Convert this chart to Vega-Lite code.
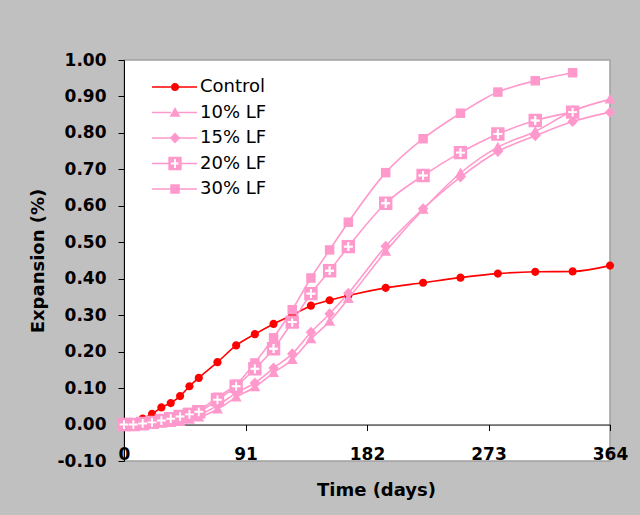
{
  "$schema": "https://vega.github.io/schema/vega-lite/v6.json",
  "width": 486,
  "height": 401,
  "autosize": {"type": "none"},
  "padding": {"left": 124, "top": 60, "right": 30, "bottom": 54},
  "background": "#C0C0C0",
  "config": {
    "font": "DejaVu Sans",
    "view": {"fill": "white", "stroke": "#A0A0A0", "strokeWidth": 1.5},
    "axis": {
      "grid": false,
      "labelFont": "DejaVu Sans",
      "labelFontWeight": "bold",
      "labelFontSize": 17,
      "labelColor": "black",
      "titleFont": "DejaVu Sans",
      "titleFontWeight": "bold",
      "titleFontSize": 18,
      "titleColor": "black",
      "domainColor": "black",
      "domainWidth": 1,
      "tickColor": "black",
      "tickWidth": 1,
      "tickSize": 6,
      "labelFlush": false,
      "labelOverlap": false
    }
  },
  "data": {
    "values": [
      {"series": "Control", "day": 0, "value": 0},
      {"series": "Control", "day": 7, "value": 0.006},
      {"series": "Control", "day": 14, "value": 0.016},
      {"series": "Control", "day": 21, "value": 0.029},
      {"series": "Control", "day": 28, "value": 0.047},
      {"series": "Control", "day": 35, "value": 0.059},
      {"series": "Control", "day": 42, "value": 0.078},
      {"series": "Control", "day": 49, "value": 0.105},
      {"series": "Control", "day": 56, "value": 0.128},
      {"series": "Control", "day": 70, "value": 0.171},
      {"series": "Control", "day": 84, "value": 0.217},
      {"series": "Control", "day": 98, "value": 0.248},
      {"series": "Control", "day": 112, "value": 0.276},
      {"series": "Control", "day": 126, "value": 0.3},
      {"series": "Control", "day": 140, "value": 0.326},
      {"series": "Control", "day": 154, "value": 0.341},
      {"series": "Control", "day": 168, "value": 0.354},
      {"series": "Control", "day": 196, "value": 0.375},
      {"series": "Control", "day": 224, "value": 0.389},
      {"series": "Control", "day": 252, "value": 0.403},
      {"series": "Control", "day": 280, "value": 0.414},
      {"series": "Control", "day": 308, "value": 0.419},
      {"series": "Control", "day": 336, "value": 0.42},
      {"series": "Control", "day": 364, "value": 0.436},

      {"series": "10% LF", "day": 0, "value": 0},
      {"series": "10% LF", "day": 7, "value": -0.006},
      {"series": "10% LF", "day": 14, "value": -0.004},
      {"series": "10% LF", "day": 21, "value": 0.0},
      {"series": "10% LF", "day": 28, "value": 0.003},
      {"series": "10% LF", "day": 35, "value": 0.005},
      {"series": "10% LF", "day": 42, "value": 0.008},
      {"series": "10% LF", "day": 49, "value": 0.014},
      {"series": "10% LF", "day": 56, "value": 0.02},
      {"series": "10% LF", "day": 70, "value": 0.042},
      {"series": "10% LF", "day": 84, "value": 0.075},
      {"series": "10% LF", "day": 98, "value": 0.103},
      {"series": "10% LF", "day": 112, "value": 0.142},
      {"series": "10% LF", "day": 126, "value": 0.178},
      {"series": "10% LF", "day": 140, "value": 0.235},
      {"series": "10% LF", "day": 154, "value": 0.283},
      {"series": "10% LF", "day": 168, "value": 0.345},
      {"series": "10% LF", "day": 196, "value": 0.475},
      {"series": "10% LF", "day": 224, "value": 0.59},
      {"series": "10% LF", "day": 252, "value": 0.69},
      {"series": "10% LF", "day": 280, "value": 0.761},
      {"series": "10% LF", "day": 308, "value": 0.804},
      {"series": "10% LF", "day": 336, "value": 0.86},
      {"series": "10% LF", "day": 364, "value": 0.892},

      {"series": "15% LF", "day": 0, "value": 0},
      {"series": "15% LF", "day": 7, "value": -0.003},
      {"series": "15% LF", "day": 14, "value": 0.0},
      {"series": "15% LF", "day": 21, "value": 0.003},
      {"series": "15% LF", "day": 28, "value": 0.006},
      {"series": "15% LF", "day": 35, "value": 0.01},
      {"series": "15% LF", "day": 42, "value": 0.014},
      {"series": "15% LF", "day": 49, "value": 0.02},
      {"series": "15% LF", "day": 56, "value": 0.027},
      {"series": "15% LF", "day": 70, "value": 0.052},
      {"series": "15% LF", "day": 84, "value": 0.087},
      {"series": "15% LF", "day": 98, "value": 0.114},
      {"series": "15% LF", "day": 112, "value": 0.155},
      {"series": "15% LF", "day": 126, "value": 0.194},
      {"series": "15% LF", "day": 140, "value": 0.253},
      {"series": "15% LF", "day": 154, "value": 0.304},
      {"series": "15% LF", "day": 168, "value": 0.36},
      {"series": "15% LF", "day": 196, "value": 0.489},
      {"series": "15% LF", "day": 224, "value": 0.592},
      {"series": "15% LF", "day": 252, "value": 0.679},
      {"series": "15% LF", "day": 280, "value": 0.749},
      {"series": "15% LF", "day": 308, "value": 0.792},
      {"series": "15% LF", "day": 336, "value": 0.831},
      {"series": "15% LF", "day": 364, "value": 0.857},

      {"series": "20% LF", "day": 0, "value": 0},
      {"series": "20% LF", "day": 7, "value": 0.0},
      {"series": "20% LF", "day": 14, "value": 0.003},
      {"series": "20% LF", "day": 21, "value": 0.006},
      {"series": "20% LF", "day": 28, "value": 0.011},
      {"series": "20% LF", "day": 35, "value": 0.016},
      {"series": "20% LF", "day": 42, "value": 0.022},
      {"series": "20% LF", "day": 49, "value": 0.028},
      {"series": "20% LF", "day": 56, "value": 0.035},
      {"series": "20% LF", "day": 70, "value": 0.068},
      {"series": "20% LF", "day": 84, "value": 0.105},
      {"series": "20% LF", "day": 98, "value": 0.153},
      {"series": "20% LF", "day": 112, "value": 0.208},
      {"series": "20% LF", "day": 126, "value": 0.281},
      {"series": "20% LF", "day": 140, "value": 0.359},
      {"series": "20% LF", "day": 154, "value": 0.422},
      {"series": "20% LF", "day": 168, "value": 0.488},
      {"series": "20% LF", "day": 196, "value": 0.607},
      {"series": "20% LF", "day": 224, "value": 0.683},
      {"series": "20% LF", "day": 252, "value": 0.746},
      {"series": "20% LF", "day": 280, "value": 0.797},
      {"series": "20% LF", "day": 308, "value": 0.834},
      {"series": "20% LF", "day": 336, "value": 0.857},

      {"series": "30% LF", "day": 0, "value": 0},
      {"series": "30% LF", "day": 7, "value": 0.002},
      {"series": "30% LF", "day": 14, "value": 0.005},
      {"series": "30% LF", "day": 21, "value": 0.009},
      {"series": "30% LF", "day": 28, "value": 0.014},
      {"series": "30% LF", "day": 35, "value": 0.02},
      {"series": "30% LF", "day": 42, "value": 0.027},
      {"series": "30% LF", "day": 49, "value": 0.033},
      {"series": "30% LF", "day": 56, "value": 0.04},
      {"series": "30% LF", "day": 70, "value": 0.075},
      {"series": "30% LF", "day": 84, "value": 0.11},
      {"series": "30% LF", "day": 98, "value": 0.169},
      {"series": "30% LF", "day": 112, "value": 0.238},
      {"series": "30% LF", "day": 126, "value": 0.315},
      {"series": "30% LF", "day": 140, "value": 0.402},
      {"series": "30% LF", "day": 154, "value": 0.479},
      {"series": "30% LF", "day": 168, "value": 0.555},
      {"series": "30% LF", "day": 196, "value": 0.691},
      {"series": "30% LF", "day": 224, "value": 0.784},
      {"series": "30% LF", "day": 252, "value": 0.854},
      {"series": "30% LF", "day": 280, "value": 0.912},
      {"series": "30% LF", "day": 308, "value": 0.943},
      {"series": "30% LF", "day": 336, "value": 0.965}
    ]
  },
  "encoding": {
    "x": {
      "field": "day",
      "type": "quantitative",
      "scale": {"domain": [0, 364], "nice": false, "zero": false},
      "axis": {
        "values": [0, 91, 182, 273, 364],
        "offset": -36.45,
        "labelPadding": 24,
        "labelBaseline": "middle",
        "title": "Time (days)",
        "titleX": 252,
        "titleY": 65.5,
        "titleAlign": "center",
        "titleBaseline": "middle"
      }
    },
    "y": {
      "field": "value",
      "type": "quantitative",
      "scale": {"domain": [-0.1, 1.0], "nice": false, "zero": false},
      "axis": {
        "values": [-0.1, 0, 0.1, 0.2, 0.3, 0.4, 0.5, 0.6, 0.7, 0.8, 0.9, 1.0],
        "labelExpr": "replace(format(datum.value, '.2f'), '\u2212', '-')",
        "labelPadding": 12,
        "title": "Expansion (%)",
        "titleX": -86,
        "titleY": 200.5,
        "titleAngle": 270,
        "titleAlign": "center",
        "titleBaseline": "middle"
      }
    }
  },
  "layer": [
    {
      "mark": {"type": "line", "interpolate": "monotone", "strokeWidth": 1.6},
      "encoding": {
        "color": {
          "field": "series",
          "type": "nominal",
          "sort": ["Control", "10% LF", "15% LF", "20% LF", "30% LF"],
          "scale": {"range": ["#FF0000", "#FF99CC", "#FF99CC", "#FF99CC", "#FF99CC"]},
          "legend": {
            "title": null,
            "orient": "none",
            "direction": "vertical",
            "legendX": 41.5,
            "legendY": 18,
            "padding": 0,
            "symbolType": "M-5,0H-0.8M0.8,0H5",
            "symbolSize": 81,
            "symbolStrokeWidth": 1.6,
            "labelOffset": 16.5,
            "labelFont": "DejaVu Sans",
            "labelFontSize": 18,
            "labelColor": "black",
            "rowPadding": 7.5
          }
        }
      }
    },
    {
      "mark": {"type": "point", "filled": true, "opacity": 1, "strokeWidth": 0, "size": 100},
      "encoding": {
        "fill": {
          "field": "series",
          "type": "nominal",
          "scale": {
            "domain": ["Control", "10% LF", "15% LF", "20% LF", "30% LF"],
            "range": ["#FF0000", "#FF99CC", "#FF99CC", "#FF99CC", "#FF99CC"]
          },
          "legend": {
            "title": null,
            "orient": "none",
            "direction": "vertical",
            "legendX": 42,
            "legendY": 18,
            "padding": 0,
            "symbolSize": 100,
            "symbolStrokeWidth": 0,
            "labelExpr": "''",
            "labelOffset": 20,
            "labelFont": "DejaVu Sans",
            "labelFontSize": 18,
            "rowPadding": 7.5
          }
        },
        "shape": {
          "field": "series",
          "type": "nominal",
          "scale": {
            "domain": ["Control", "10% LF", "15% LF", "20% LF", "30% LF"],
            "range": [
              "M-0.82,0A0.82,0.82,0,1,1,0.82,0A0.82,0.82,0,1,1,-0.82,0Z",
              "M0,-1.1L1.1,0.85L-1.1,0.85Z",
              "M0,-1.1L1.05,0L0,1.1L-1.05,0Z",
              "M-1.34,-1.34H1.34V1.34H-1.34Z M-0.19,-0.88V-0.19H-0.88V0.19H-0.19V0.88H0.19V0.19H0.88V-0.19H0.19V-0.88Z",
              "M-0.95,-0.95H0.95V0.95H-0.95Z"
            ]
          },
          "legend": {
            "title": null,
            "orient": "none",
            "direction": "vertical",
            "legendX": 42,
            "legendY": 18,
            "padding": 0,
            "symbolSize": 100,
            "symbolStrokeWidth": 0,
            "labelExpr": "''",
            "labelOffset": 20,
            "labelFont": "DejaVu Sans",
            "labelFontSize": 18,
            "rowPadding": 7.5
          }
        }
      }
    },
    {
      "transform": [{"filter": "datum.series === '20% LF'"}],
      "mark": {
        "type": "point",
        "filled": true,
        "opacity": 1,
        "fill": "white",
        "strokeWidth": 0,
        "size": 100,
        "shape": "M-0.19,-0.88H0.19V-0.19H0.88V0.19H0.19V0.88H-0.19V0.19H-0.88V-0.19H-0.19Z"
      }
    }
  ]
}
